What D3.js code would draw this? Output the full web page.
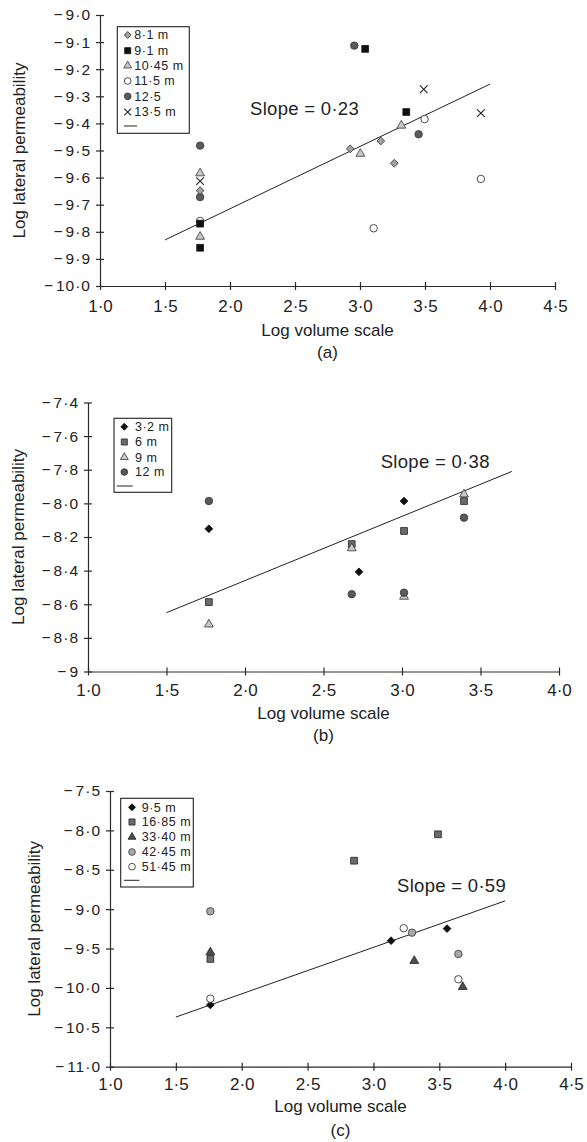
<!DOCTYPE html>
<html>
<head>
<meta charset="utf-8">
<script src="https://cdn.jsdelivr.net/npm/d3@7"></script>
<style>
  body { margin: 0; background: #fff; }
  svg { display: block; }
  text { font-family: "Liberation Sans", Arial, Helvetica, sans-serif; fill: #222; }
</style>
</head>
<body>
<svg id="chart" width="587" height="1142"></svg>
<script>
// ---------- Panel (a) ----------
const xTicksA = [1.0, 1.5, 2.0, 2.5, 3.0, 3.5, 4.0, 4.5];
const xTickLabelsA = ["1·0", "1·5", "2·0", "2·5", "3·0", "3·5", "4·0", "4·5"];
const yTicksA = [-9.0, -9.1, -9.2, -9.3, -9.4, -9.5, -9.6, -9.7, -9.8, -9.9, -10.0];
const yTickLabelsA = ["−9·0", "−9·1", "−9·2", "−9·3", "−9·4", "−9·5", "−9·6", "−9·7", "−9·8", "−9·9", "−10·0"];
const seriesNamesA = ["8·1 m", "9·1 m", "10·45 m", "11·5 m", "12·5", "13·5 m"];
const depth81A   = [[1.77, -9.648], [2.925, -9.494], [3.16, -9.465], [3.264, -9.547]];
const depth91A   = [[1.77, -9.77], [1.77, -9.859], [3.04, -9.125], [3.356, -9.358]];
const depth1045A = [[1.77, -9.584], [1.77, -9.818], [3.003, -9.512], [3.318, -9.408]];
const depth115A  = [[1.77, -9.76], [3.105, -9.787], [3.497, -9.384], [3.93, -9.605]];
const depth125A  = [[1.77, -9.482], [1.77, -9.672], [2.956, -9.113], [3.451, -9.44]];
const depth135A  = [[1.77, -9.613], [3.49, -9.274], [3.93, -9.362]];
const fitA = [[1.5, -9.83], [4.0, -9.255]];
const slopeLabelA = "Slope = 0·23";

// ---------- Panel (b) ----------
const xTicksB = [1.0, 1.5, 2.0, 2.5, 3.0, 3.5, 4.0];
const xTickLabelsB = ["1·0", "1·5", "2·0", "2·5", "3·0", "3·5", "4·0"];
const yTicksB = [-7.4, -7.6, -7.8, -8.0, -8.2, -8.4, -8.6, -8.8, -9.0];
const yTickLabelsB = ["−7·4", "−7·6", "−7·8", "−8·0", "−8·2", "−8·4", "−8·6", "−8·8", "−9"];
const seriesNamesB = ["3·2 m", "6 m", "9 m", "12 m"];
const depth32B = [[1.77, -8.151], [2.726, -8.407], [3.013, -7.986]];
const depth6B  = [[1.77, -8.587], [2.68, -8.242], [3.013, -8.164], [3.395, -7.986]];
const depth9B  = [[1.77, -8.72], [2.68, -8.267], [3.013, -8.555], [3.395, -7.946]];
const depth12B = [[1.77, -7.986], [2.68, -8.54], [3.013, -8.531], [3.395, -8.085]];
const fitB = [[1.5, -8.65], [3.7, -7.81]];
const slopeLabelB = "Slope = 0·38";

// ---------- Panel (c) ----------
const xTicksC = [1.0, 1.5, 2.0, 2.5, 3.0, 3.5, 4.0, 4.5];
const xTickLabelsC = ["1·0", "1·5", "2·0", "2·5", "3·0", "3·5", "4·0", "4·5"];
const yTicksC = [-7.5, -8.0, -8.5, -9.0, -9.5, -10.0, -10.5, -11.0];
const yTickLabelsC = ["−7·5", "−8·0", "−8·5", "−9·0", "−9·5", "−10·0", "−10·5", "−11·0"];
const seriesNamesC = ["9·5 m", "16·85 m", "33·40 m", "42·45 m", "51·45 m"];
const depth95C   = [[1.762, -10.216], [3.134, -9.4], [3.559, -9.247]];
const depth1685C = [[1.762, -9.632], [2.853, -8.385], [3.49, -8.05]];
const depth3340C = [[1.762, -9.547], [3.31, -9.657], [3.678, -9.987]];
const depth4245C = [[1.762, -9.027], [3.293, -9.298], [3.645, -9.569]];
const depth5145C = [[1.762, -10.136], [3.23, -9.242], [3.645, -9.89]];
const fitC = [[1.5, -10.37], [4.0, -8.895]];
const slopeLabelC = "Slope = 0·59";

const xTitle = "Log volume scale";
const yTitle = "Log lateral permeability";

// Marker styles
const styles = {
  diamondGrey:  { shape: "diamond",  fill: "#a3a3a3", stroke: "#333" },
  diamondBlack: { shape: "diamond",  fill: "#111",    stroke: "#111" },
  squareBlack:  { shape: "square",   fill: "#111",    stroke: "#111" },
  squareGrey:   { shape: "square",   fill: "#6b6b6b", stroke: "#222" },
  triLight:     { shape: "triangle", fill: "#c9c9c9", stroke: "#333" },
  triDark:      { shape: "triangle", fill: "#4d4d4d", stroke: "#222" },
  circleOpen:   { shape: "circle",   fill: "#fff",    stroke: "#222" },
  circleDark:   { shape: "circle",   fill: "#5a5a5a", stroke: "#333" },
  circleGrey:   { shape: "circle",   fill: "#a8a8a8", stroke: "#333" },
  cross:        { shape: "times",    fill: "none",    stroke: "#222" }
};

const symbolTypes = {
  diamond: d3.symbolSquare,
  square: d3.symbolSquare,
  triangle: d3.symbolTriangle,
  circle: d3.symbolCircle,
  times: d3.symbolTimes
};
const symbolSizes = { diamond: 30, square: 46, triangle: 34, circle: 44, times: 40 };

const panels = [
  {
    xDomain: [1, 4.5], yDomain: [-10, -9],
    left: 100, right: 555, top: 15, bottom: 286,
    xTicks: xTicksA, xLabels: xTickLabelsA, yTicks: yTicksA, yLabels: yTickLabelsA,
    series: [
      { name: seriesNamesA[0], pts: depth81A,   st: styles.diamondGrey },
      { name: seriesNamesA[1], pts: depth91A,   st: styles.squareBlack },
      { name: seriesNamesA[2], pts: depth1045A, st: styles.triLight },
      { name: seriesNamesA[3], pts: depth115A,  st: styles.circleOpen },
      { name: seriesNamesA[4], pts: depth125A,  st: styles.circleDark },
      { name: seriesNamesA[5], pts: depth135A,  st: styles.cross }
    ],
    drawReversed: true,
    fit: fitA, slope: slopeLabelA, slopeX: 250, slopeY: 115,
    legend: { x0: 117.3, y0: 26.7, x1: 189.3, y1: 133.3, rows: [35, 50.7, 65.7, 81, 96.3, 112], lineY: 126, mx: 127.7, tx: 134.3, lx0: 124, lx1: 137 },
    xPad: 9.5, xTitleY: 335.7, caption: "(a)", captionY: 357.5, yTitleX: 25
  },
  {
    xDomain: [1, 4], yDomain: [-9, -7.4],
    left: 88, right: 559, top: 402.5, bottom: 671.5,
    xTicks: xTicksB, xLabels: xTickLabelsB, yTicks: yTicksB, yLabels: yTickLabelsB,
    series: [
      { name: seriesNamesB[0], pts: depth32B, st: styles.diamondBlack },
      { name: seriesNamesB[1], pts: depth6B,  st: styles.squareGrey },
      { name: seriesNamesB[2], pts: depth9B,  st: styles.triLight },
      { name: seriesNamesB[3], pts: depth12B, st: styles.circleDark }
    ],
    drawReversed: false,
    fit: fitB, slope: slopeLabelB, slopeX: 380.7, slopeY: 468.3,
    legend: { x0: 114, y0: 418.3, x1: 171.7, y1: 492.3, rows: [426.7, 442, 457.3, 472], lineY: 486, mx: 124.3, tx: 135, lx0: 116.7, lx1: 132.7 },
    xPad: 8.5, xTitleY: 718.5, caption: "(b)", captionY: 741, yTitleX: 24
  },
  {
    xDomain: [1, 4.5], yDomain: [-11, -7.5],
    left: 110, right: 571, top: 791, bottom: 1066.7,
    xTicks: xTicksC, xLabels: xTickLabelsC, yTicks: yTicksC, yLabels: yTickLabelsC,
    series: [
      { name: seriesNamesC[0], pts: depth95C,   st: styles.diamondBlack },
      { name: seriesNamesC[1], pts: depth1685C, st: styles.squareGrey },
      { name: seriesNamesC[2], pts: depth3340C, st: styles.triDark },
      { name: seriesNamesC[3], pts: depth4245C, st: styles.circleGrey },
      { name: seriesNamesC[4], pts: depth5145C, st: styles.circleOpen }
    ],
    drawReversed: false,
    fit: fitC, slope: slopeLabelC, slopeX: 397, slopeY: 891.7,
    legend: { x0: 120.7, y0: 798.3, x1: 193.3, y1: 887, rows: [807.3, 822, 837, 852, 866.7], lineY: 880.3, mx: 132, tx: 141.7, lx0: 124, lx1: 139.3 },
    xPad: 7.5, xTitleY: 1111.7, caption: "(c)", captionY: 1135.5, yTitleX: 40
  }
];

const svg = d3.select("#chart");

function marker(g, st, cx, cy, scale) {
  const type = symbolTypes[st.shape];
  const size = symbolSizes[st.shape] * (scale || 1);
  const rot = st.shape === "diamond" ? 45 : 0;
  g.append("path")
    .attr("d", d3.symbol(type, size)())
    .attr("transform", `translate(${cx},${cy}) rotate(${rot})`)
    .attr("fill", st.fill)
    .attr("stroke", st.stroke)
    .attr("stroke-width", st.shape === "times" ? 1.1 : 0.8);
}

panels.forEach(p => {
  const g = svg.append("g");
  const x = d3.scaleLinear().domain(p.xDomain).range([p.left, p.right]);
  const y = d3.scaleLinear().domain(p.yDomain).range([p.bottom, p.top]);

  // x axis
  const xAxis = d3.axisBottom(x)
    .tickValues(p.xTicks)
    .tickFormat((d, i) => p.xLabels[i])
    .tickSizeInner(4).tickSizeOuter(0).tickPadding(p.xPad);
  const gx = g.append("g").attr("transform", `translate(0,${p.bottom})`).call(xAxis);
  gx.selectAll(".tick line").attr("y1", -4).attr("y2", 4);
  gx.selectAll("path.domain, .tick line").attr("stroke", "#2a2a2a").attr("stroke-width", 1.2);
  gx.selectAll("text").attr("font-size", 17).attr("fill", "#222")
    .style("font-family", '"Liberation Sans", Arial, sans-serif');

  // y axis: the minus sign is set with a small gap after it
  const yAxis = d3.axisLeft(y)
    .tickValues(p.yTicks)
    .tickFormat((d, i) => p.yLabels[i])
    .tickSizeInner(4).tickSizeOuter(0).tickPadding(5);
  const gy = g.append("g").attr("transform", `translate(${p.left},0)`).call(yAxis);
  gy.selectAll(".tick line").attr("x1", -4).attr("x2", 4);
  gy.selectAll("path.domain, .tick line").attr("stroke", "#2a2a2a").attr("stroke-width", 1.2);
  gy.selectAll("text").each(function () {
    const t = d3.select(this);
    const label = t.text();
    t.text(null)
      .attr("font-size", 15.5).attr("fill", "#222")
      .style("font-family", '"Liberation Sans", Arial, sans-serif');
    t.append("tspan").style("letter-spacing", "3px").text(label.slice(0, 1));
    t.append("tspan").style("letter-spacing", "1px").text(label.slice(1));
  });

  // titles
  g.append("text")
    .attr("x", (p.left + p.right) / 2).attr("y", p.xTitleY)
    .attr("text-anchor", "middle").attr("font-size", 17).text(xTitle);
  g.append("text")
    .attr("x", (p.left + p.right) / 2).attr("y", p.captionY)
    .attr("text-anchor", "middle").attr("font-size", 17).text(p.caption);
  g.append("text")
    .attr("transform", `translate(${p.yTitleX},${(p.top + p.bottom) / 2}) rotate(-90)`)
    .attr("text-anchor", "middle").attr("font-size", 17).text(yTitle);

  // fitted line
  g.append("line")
    .attr("x1", x(p.fit[0][0])).attr("y1", y(p.fit[0][1]))
    .attr("x2", x(p.fit[1][0])).attr("y2", y(p.fit[1][1]))
    .attr("stroke", "#222").attr("stroke-width", 1);

  // slope annotation
  g.append("text")
    .attr("x", p.slopeX).attr("y", p.slopeY)
    .attr("font-size", 18.5).style("letter-spacing", "0.3px")
    .text(p.slope);

  // points
  const order = p.drawReversed ? p.series.slice().reverse() : p.series;
  const gp = g.append("g");
  order.forEach(s => {
    s.pts.forEach(pt => marker(gp, s.st, x(pt[0]), y(pt[1]), 1));
  });

  // legend
  const L = p.legend;
  const gl = g.append("g");
  gl.append("rect")
    .attr("x", L.x0).attr("y", L.y0)
    .attr("width", L.x1 - L.x0).attr("height", L.y1 - L.y0)
    .attr("fill", "#fff").attr("stroke", "#222").attr("stroke-width", 1.1);
  p.series.forEach((s, i) => {
    marker(gl, s.st, L.mx, L.rows[i], 0.8);
    gl.append("text")
      .attr("x", L.tx).attr("y", L.rows[i] + 4.4)
      .attr("font-size", 12.5).style("letter-spacing", "0.5px")
      .text(s.name);
  });
  gl.append("line")
    .attr("x1", L.lx0).attr("x2", L.lx1)
    .attr("y1", L.lineY).attr("y2", L.lineY)
    .attr("stroke", "#222").attr("stroke-width", 1);
});
</script>
</body>
</html>
